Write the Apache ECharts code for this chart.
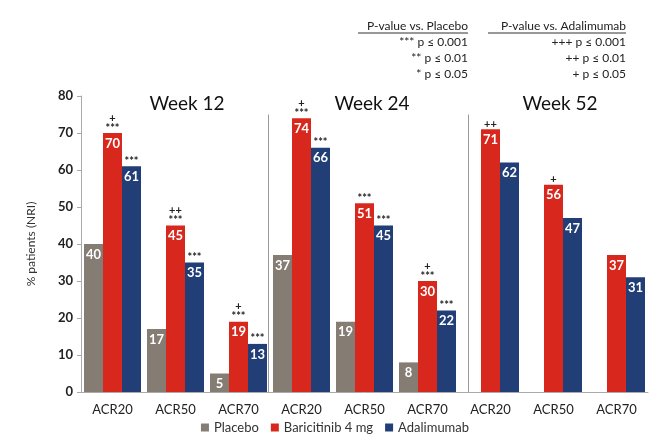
<!DOCTYPE html>
<html><head><meta charset="utf-8">
<script src="https://cdn.jsdelivr.net/npm/echarts@6/dist/echarts.min.js"></script>
<style>html,body{margin:0;padding:0;background:#fff}#c{width:670px;height:443px}</style>
</head><body><div id="c"></div>
<script>
// ---- data ----
const categories = ['ACR20','ACR50','ACR70','ACR20','ACR50','ACR70','ACR20','ACR50','ACR70'];
const seriesNames = ['Placebo','Baricitinib 4 mg','Adalimumab'];
const placebo = [40,17,5,37,19,8,null,null,null];
const baricitinib = [70,45,19,74,51,30,71,56,37];
const adalimumab = [61,35,13,66,45,22,62,47,31];
const sigPlacebo = ['','','','','','','','',''];
const sigBaricitinib = ['+\n***','++\n***','+\n***','+\n***','***','+\n***','++','+',''];
const sigAdalimumab = ['***','***','***','***','***','***','','',''];
const weekLabels = ['Week 12','Week 24','Week 52'];
const separators = [2.97, 6.15];
const yMin = 0, yMax = 80, yStep = 10;
const notesLeft = ['P-value vs. Placebo','*** p \u2264 0.001','** p \u2264 0.01','* p \u2264 0.05'];
const notesRight = ['P-value vs. Adalimumab','+++ p \u2264 0.001','++ p \u2264 0.01','+ p \u2264 0.05'];

const colors = ['#857c73','#d8281e','#213e77'];
const FONT = 'Lato, "Open Sans", sans-serif';

const chart = echarts.init(document.getElementById('c'), null, {renderer:'canvas'});

const allValues = [placebo, baricitinib, adalimumab];
const allSig = [sigPlacebo, sigBaricitinib, sigAdalimumab];

const barSeries = allValues.map((vals, i) => ({
  name: seriesNames[i], type: 'bar', xAxisIndex: 0, yAxisIndex: 0,
  data: vals, barGap: '0%', barCategoryGap: '9.5%',
  itemStyle: {color: colors[i]},
  label: {show: true, position: 'insideTop', distance: 4, color: '#fff',
    fontFamily: FONT, fontWeight: 'bold', fontSize: 13,
    formatter: p => (p.value == null ? '' : String(p.value))}
}));
const sigSeries = allValues.map((vals, i) => ({
  name: seriesNames[i] + ' sig', type: 'bar', xAxisIndex: 1, yAxisIndex: 0,
  data: vals, barGap: '0%', barCategoryGap: '9.5%',
  itemStyle: {color: 'rgba(0,0,0,0)'}, silent: true, legendHoverLink: false,
  label: {show: true, position: 'top', distance: 0, color: '#222',
    fontFamily: FONT, fontWeight: 'bold', fontSize: 11, lineHeight: 10,
    formatter: p => allSig[i][p.dataIndex] || ''}
}));
const sepSeries = {
  type: 'line', xAxisIndex: 2, yAxisIndex: 0, data: [], silent: true,
  markLine: {symbol: 'none', silent: true, label: {show: false},
    lineStyle: {color: '#9a9a9a', width: 1, type: 'solid'},
    data: separators.map(s => [{coord: [s, 75]}, {coord: [s, 0]}])}
};

const weekX = [187, 372, 560];
const graphics = [];
weekLabels.forEach((w, i) => graphics.push({type: 'text', x: weekX[i], y: 104,
  style: {text: w, fontFamily: FONT, fontSize: 19, fill: '#111', textAlign: 'center', textVerticalAlign: 'middle'}}));
const noteY = [26, 42, 58, 74];
notesLeft.forEach((t, i) => graphics.push({type: 'text', x: 468, y: noteY[i],
  style: {text: t, fontFamily: FONT, fontSize: 12, fill: '#222', textAlign: 'right', textVerticalAlign: 'middle'}}));
notesRight.forEach((t, i) => graphics.push({type: 'text', x: 626, y: noteY[i],
  style: {text: t, fontFamily: FONT, fontSize: 12, fill: '#222', textAlign: 'right', textVerticalAlign: 'middle'}}));
graphics.push({type: 'line', shape: {x1: 358, y1: 33, x2: 468, y2: 33}, style: {stroke: '#333', lineWidth: 1}});
graphics.push({type: 'line', shape: {x1: 488, y1: 33, x2: 626, y2: 33}, style: {stroke: '#333', lineWidth: 1}});

chart.setOption({
  animation: false,
  color: colors,
  grid: {left: 81, right: 22, top: 96, bottom: 51, containLabel: false},
  legend: {data: seriesNames, bottom: 4, left: 'center', itemWidth: 8, itemHeight: 8, itemGap: 12,
    icon: 'rect', textStyle: {fontFamily: FONT, fontSize: 13, color: '#333'}},
  xAxis: [
    {type: 'category', data: categories, axisTick: {show: false},
      axisLine: {lineStyle: {color: '#aaa'}},
      axisLabel: {fontFamily: FONT, fontSize: 13, color: '#222', margin: 11}},
    {type: 'category', data: categories, show: false},
    {type: 'value', min: 0, max: categories.length, show: false}
  ],
  yAxis: [{type: 'value', min: yMin, max: yMax, interval: yStep,
    name: '% patients (NRI)', nameLocation: 'middle', nameGap: 44, nameRotate: 90,
    nameTextStyle: {fontFamily: FONT, fontSize: 12, color: '#333'},
    splitLine: {show: false},
    axisLine: {show: true, lineStyle: {color: '#aaa'}},
    axisTick: {show: true, length: 4, lineStyle: {color: '#aaa'}},
    axisLabel: {fontFamily: FONT, fontSize: 13, color: '#222', fontWeight: 'bold', margin: 8}}],
  series: [...barSeries, ...sigSeries, sepSeries],
  graphic: graphics
});
</script></body></html>
